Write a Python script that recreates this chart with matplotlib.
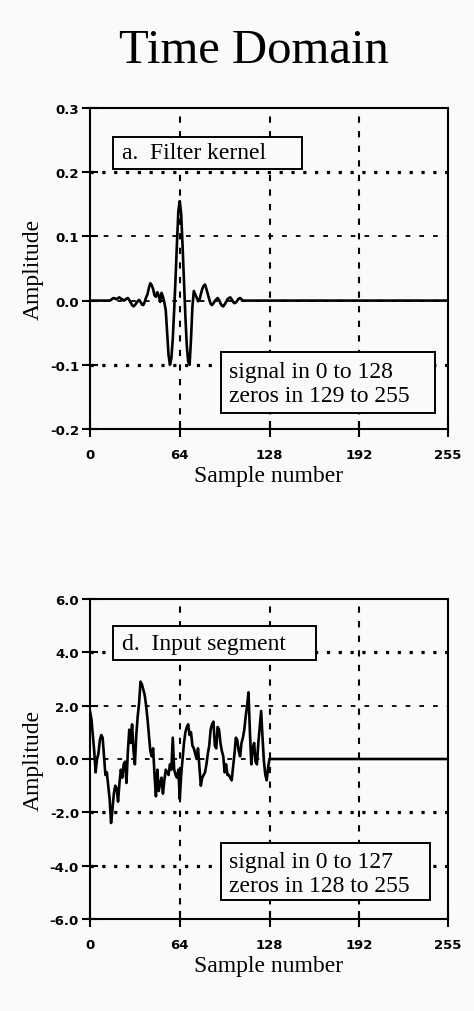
import numpy as np
import matplotlib
matplotlib.use("Agg")
import matplotlib.pyplot as plt
from matplotlib.patches import Rectangle

# ---- data -------------------------------------------------------------
# filter kernel, samples 0..128 (the rest of the 256-point frame is zero)
kernel_signal = [
    0.000, 0.000, 0.000, 0.000, 0.000, 0.000, 0.000, 0.000, 0.000, 0.000,
    0.000, 0.000, 0.000, 0.000, 0.000, 0.001, 0.003, 0.004, 0.003, 0.002,
    0.004, 0.005, 0.003, 0.002, 0.000, 0.001, 0.003, 0.004, 0.001, -0.003,
    -0.007, -0.009, -0.007, -0.004, -0.001, 0.001, -0.002, -0.006, -0.007, -0.002,
    0.005, 0.010, 0.020, 0.027, 0.024, 0.018, 0.008, 0.006, 0.013, 0.008,
    -0.002, 0.012, 0.006, -0.003, -0.015, -0.050, -0.085, -0.100, -0.090, -0.060,
    -0.015, 0.035, 0.090, 0.140, 0.155, 0.135, 0.085, 0.030, -0.025, -0.070,
    -0.095, -0.100, -0.060, -0.010, 0.015, 0.010, 0.005, -0.001, 0.000, 0.010,
    0.018, 0.023, 0.025, 0.018, 0.010, 0.002, -0.005, -0.007, -0.004, -0.001,
    0.002, 0.004, 0.001, -0.004, -0.008, -0.009, -0.006, -0.002, 0.002, 0.004,
    0.005, 0.002, -0.002, -0.004, -0.003, 0.000, 0.003, 0.004, 0.002, 0.000,
    0.000, 0.000, 0.000, 0.000, 0.000, 0.000, 0.000, 0.000, 0.000, 0.000,
    0.000, 0.000, 0.000, 0.000, 0.000, 0.000, 0.000, 0.000, 0.000,
]

# input segment, samples 0..127 (the rest of the frame is zero)
input_signal = [
    1.8, 1.5, 0.9, 0.3, -0.5, 0.0, 0.2, 0.7, 0.9, 0.8,
    0.1, -0.6, -0.5, -1.0, -1.5, -2.4, -1.9, -1.3, -1.0, -1.1,
    -1.6, -0.9, -0.4, -0.7, -0.2, -0.1, -0.9, 0.3, 1.1, 0.6,
    1.3, 0.3, -0.2, 0.9, 1.6, 2.1, 2.9, 2.8, 2.6, 2.4,
    2.0, 1.5, 0.9, 0.3, 0.1, 0.4, -0.6, -1.4, -0.4, -1.2,
    -0.9, -0.7, -1.3, -0.8, -0.4, -0.5, -0.6, -0.2, -0.4, 0.8,
    -0.4, -0.6, -0.7, -0.4, -1.5, -0.6, 0.0, 0.6, 1.0, 1.2,
    1.3, 0.9, 1.0, 0.5, 0.4, 0.2, 0.0, 0.4, -0.3, -1.0,
    -0.7, -0.6, -0.5, -0.2, 0.2, 0.5, 1.1, 1.3, 1.4, 0.5,
    0.4, 1.2, 1.1, 0.6, 0.3, 0.1, -0.5, -0.2, -0.6, -0.6,
    -0.7, -0.8, -0.3, 0.2, 0.8, 0.7, 0.3, 0.1, 0.6, 0.8,
    1.1, 1.6, 2.0, 2.5, 1.0, -0.2, 0.4, 0.6, -0.1, -0.2,
    0.6, 1.2, 1.8, 0.8, -0.1, -0.6, -0.8, -0.3,
]

N_FRAME = 256
x_ticks = [0, 64, 128, 192, 255]

top_yticks = [-0.2, -0.1, 0.0, 0.1, 0.2, 0.3]
top_ylabels = ["-0.2", "-0.1", "0.0", "0.1", "0.2", "0.3"]
top_heavy_rows = [0.2, -0.1]
top_light_rows = [0.1, 0.0]

bot_yticks = [-6.0, -4.0, -2.0, 0.0, 2.0, 4.0, 6.0]
bot_ylabels = ["-6.0", "-4.0", "-2.0", "0.0", "2.0", "4.0", "6.0"]
bot_heavy_rows = [4.0, -2.0, -4.0]
bot_light_rows = [2.0, 0.0]

grid_cols = [64, 128, 192]

# ---- styling ----------------------------------------------------------
BG = "#fafafa"
SERIF = ["Liberation Serif", "DejaVu Serif"]
TICKFONT = dict(family="DejaVu Sans", weight="bold", size=9.5)
TXT = 17

plt.rcParams["font.family"] = SERIF

fig = plt.figure(figsize=(4.74, 10.12), dpi=100, facecolor=BG)


def pad_frame(values, length):
    return np.concatenate([np.asarray(values, float),
                           np.zeros(length - len(values))])


def setup_panel(ax, ylim, yticks, ylabels, heavy, light):
    ax.set_facecolor(BG)
    ax.set_xlim(0, 255)
    ax.set_ylim(*ylim)
    ax.set_xticks(x_ticks)
    ax.set_xticklabels([str(t) for t in x_ticks], fontdict=TICKFONT)
    ax.set_yticks(yticks)
    ax.set_yticklabels(ylabels, fontdict=TICKFONT)
    ax.tick_params(axis="y", direction="inout", length=12, width=1.5, pad=2)
    ax.tick_params(axis="x", direction="inout", length=12, width=1.5, pad=8)
    for s in ax.spines.values():
        s.set_linewidth(1.5)
    for r in heavy:
        ax.axhline(r, color="black", lw=2.3, dashes=(1.0, 2.7), zorder=1)
    for r in light:
        ax.axhline(r, color="black", lw=1.3, dashes=(2.6, 5.0), zorder=1)
    for c in grid_cols:
        ax.axvline(c, color="black", lw=1.5, dashes=(3.0, 4.0), zorder=1)
    ax.set_xlabel("Sample number", fontsize=TXT)
    ax.xaxis.set_label_coords(0.5, -0.113)
    ax.set_ylabel("Amplitude", fontsize=TXT)
    ax.yaxis.set_label_coords(-0.128, 0.5)


def label_box(ax, x0, y0, x1, y1):
    ax.add_patch(Rectangle((x0, y0), x1 - x0, y1 - y0, transform=ax.transAxes,
                           facecolor=BG, edgecolor="black", lw=1.4,
                           zorder=4, clip_on=False))


samples = np.arange(N_FRAME)

# ---- top: filter kernel ---------------------------------------------
ax1 = fig.add_axes([90 / 474, 1 - 430 / 1012, 357.7 / 474, 321 / 1012])
setup_panel(ax1, (-0.2, 0.3), top_yticks, top_ylabels,
            top_heavy_rows, top_light_rows)
ax1.plot(samples, pad_frame(kernel_signal, N_FRAME), color="black",
         lw=1.9, zorder=3)
label_box(ax1, 0.064, 0.81, 0.593, 0.910)
ax1.text(0.089, 0.860, "a.  Filter kernel", transform=ax1.transAxes,
         fontsize=TXT, va="center", ha="left", zorder=5)
label_box(ax1, 0.366, 0.050, 0.965, 0.240)
ax1.text(0.389, 0.162, "signal in 0 to 128", transform=ax1.transAxes,
         fontsize=TXT, va="baseline", ha="left", zorder=5)
ax1.text(0.389, 0.087, "zeros in 129 to 255", transform=ax1.transAxes,
         fontsize=TXT, va="baseline", ha="left", zorder=5)

# ---- bottom: input segment ------------------------------------------
ax2 = fig.add_axes([90 / 474, 1 - 920 / 1012, 357.7 / 474, 320 / 1012])
setup_panel(ax2, (-6.0, 6.0), bot_yticks, bot_ylabels,
            bot_heavy_rows, bot_light_rows)
ax2.plot(samples, pad_frame(input_signal, N_FRAME), color="black",
         lw=1.9, zorder=3)
label_box(ax2, 0.064, 0.809, 0.632, 0.916)
ax2.text(0.089, 0.862, "d.  Input segment", transform=ax2.transAxes,
         fontsize=TXT, va="center", ha="left", zorder=5)
label_box(ax2, 0.366, 0.059, 0.951, 0.238)
ax2.text(0.389, 0.162, "signal in 0 to 127", transform=ax2.transAxes,
         fontsize=TXT, va="baseline", ha="left", zorder=5)
ax2.text(0.389, 0.087, "zeros in 128 to 255", transform=ax2.transAxes,
         fontsize=TXT, va="baseline", ha="left", zorder=5)

fig.text(253.5 / 474, 1 - 63 / 1012, "Time Domain", fontsize=35,
         ha="center", va="baseline")

fig.savefig("out.png", dpi=100, facecolor=BG)
